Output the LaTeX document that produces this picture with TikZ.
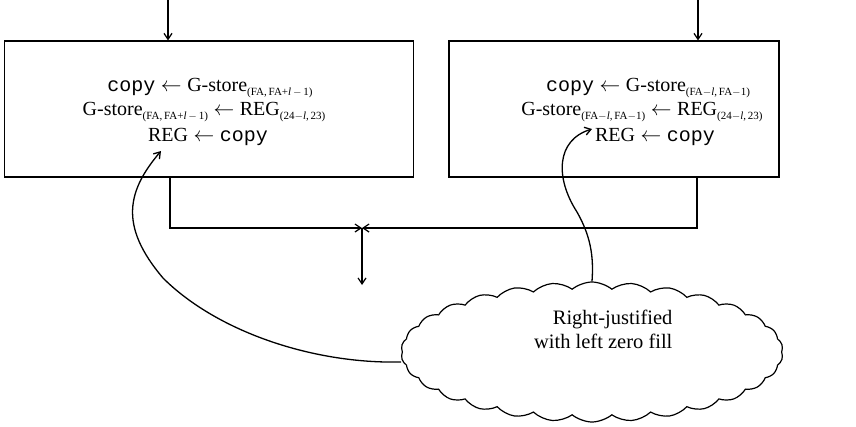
\documentclass[tikz,border=0pt]{standalone}
\usepackage{fontspec}
\setmainfont{Liberation Serif}
\setmonofont{Liberation Mono}
\usetikzlibrary{shapes.symbols,arrows.meta}
\newcommand{\lowsub}[1]{\raisebox{-0.45ex}{\fontsize{11}{12}\selectfont #1}}
\newcommand{\cpy}{\texttt{copy}}
\newcommand{\lar}{\;$\leftarrow$\;}
\begin{document}
\begin{tikzpicture}[x=1pt,y=-1pt,line width=1.2pt,
  >={Straight Barb[length=6pt,width=8pt]},
  boxnode/.style={draw,rectangle,inner sep=0pt},
  txt/.style={anchor=base,inner sep=0pt,font=\fontsize{20}{24}\selectfont},
  cloudnode/.style={draw,cloud,cloud puffs=30,cloud puff arc=80,aspect=2.7,
     minimum width=382pt,minimum height=140pt,inner sep=0pt}]
\useasboundingbox (0,0) rectangle (856,426);

\node[boxnode,minimum width=409pt,minimum height=136pt] (L) at (209,109) {};
\node[boxnode,minimum width=330pt,minimum height=136pt] (R) at (614,109) {};

\coordinate (inL) at (168,0);
\coordinate (inR) at (698,0);
\draw[->] (inL) -- (inL |- L.north);
\draw[->] (inR) -- (inR |- R.north);

% left box text
\node[txt] (l1) at (210,91.5) {\cpy\lar G-store\lowsub{(FA,\,FA+\textit{l}\,$-$\,1)}};
\node[txt] (l2) at (204,115) {G-store\lowsub{(FA,\,FA+\textit{l}\,$-$\,1)}\lar REG\lowsub{(24$-$\textit{l},\,23)}};
\node[txt] (l3) at (208,141.5) {REG\lar\cpy};

% right box text
\node[txt] (r1) at (648,91.5) {\cpy\lar G-store\lowsub{(FA$-$\textit{l},\,FA$-$1)}};
\node[txt] (r2) at (642,115) {G-store\lowsub{(FA$-$\textit{l},\,FA$-$1)}\lar REG\lowsub{(24$-$\textit{l},\,23)}};
\node[txt] (r3) at (655,141.5) {REG\lar\cpy};

% merge
\coordinate (lo) at (170,228);
\coordinate (ro) at (697,228);
\coordinate (jn) at (362,228);
\coordinate (out) at (362,285);
\draw[->] (lo |- L.south) -- (lo) -- (jn);
\draw[->] (ro |- R.south) -- (ro) -- (jn);
\draw[->] (jn) -- (out);

% cloud
\node[cloudnode] (C) at (592,352) {};
\node[anchor=base east,inner sep=0pt,align=right,font=\fontsize{20.5}{23.5}\selectfont] (ct) at (673,348) {Right-justified\\with left zero fill};

% arrows from cloud
\coordinate (cl) at (401,362);
\coordinate (tipL) at (161,151);
\coordinate (tipR) at (592,129);
\draw[->,line width=1.3pt] (cl) .. controls (310,364) and (215,330) .. (163,278)
   .. controls (118,225) and (128,190) .. (tipL);
\draw[->,line width=1.3pt] (C.north) .. controls (594,255) and (590,235) .. (577,212)
   .. controls (555,178) and (556,140) .. (tipR);
\end{tikzpicture}
\end{document}
